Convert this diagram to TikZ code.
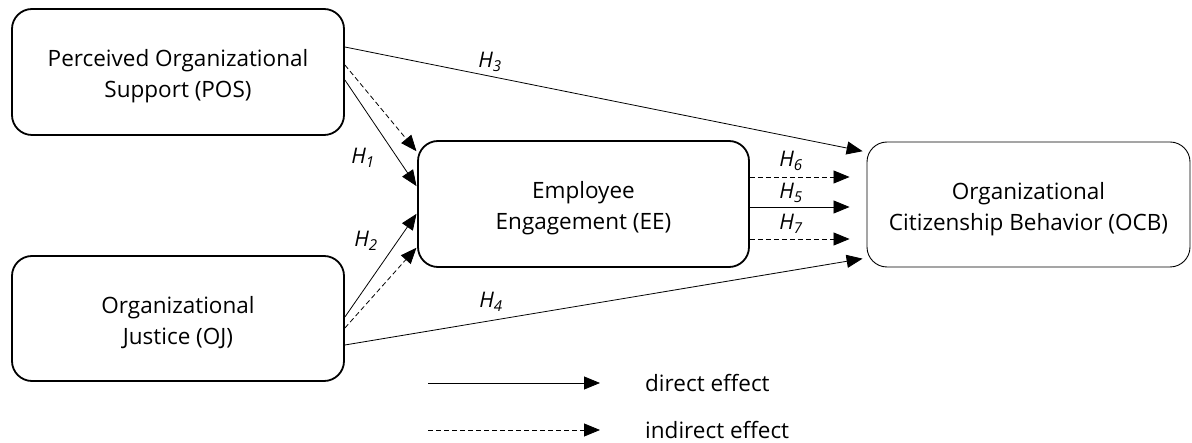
\documentclass[tikz,border=0pt]{standalone}
\usepackage{fontspec}
\setmainfont{Open Sans}
\usetikzlibrary{arrows.meta,calc}
\newcommand{\topstrut}{\rule{0pt}{26pt}}
\begin{document}
\begin{tikzpicture}[x=1pt,y=-1pt,
  box/.style={draw, line width=1.8pt, rounded corners=20pt, align=center,
    font=\fontsize{22.5}{31}\selectfont, inner sep=0pt},
  thinbox/.style={box, line width=0.9pt},
  hlab/.style={font=\fontsize{21.5}{21.5}\selectfont\itshape, inner sep=0pt},
  legtext/.style={font=\fontsize{22.5}{22.5}\selectfont, anchor=west, inner sep=0pt},
  dirarrow/.style={-{Triangle[length=16pt,width=13pt]}, line width=0.8pt},
  indarrow/.style={dirarrow, dash pattern=on 5pt off 3pt}]
\fill[white] (0,0) rectangle (1192,443);
\useasboundingbox (0,0) rectangle (1192,443);

\node[box, minimum width=332pt, minimum height=126pt] (pos) at (178,72)
  {\topstrut Perceived Organizational\\Support (POS)};
\node[box, minimum width=332pt, minimum height=125pt] (oj) at (178,318.5)
  {\topstrut Organizational\\Justice (OJ)};
\node[box, minimum width=331pt, minimum height=126pt] (ee) at (583.5,204)
  {\topstrut Employee\\Engagement (EE)};
\node[thinbox, minimum width=323pt, minimum height=125pt] (ocb) at (1028.5,204.5)
  {\topstrut Organizational\\Citizenship Behavior (OCB)};

% POS arrows
\draw[dirarrow, shorten >=4pt] ([yshift=25pt]pos.east) -- ([yshift=52.5pt]ocb.west);
\draw[indarrow, shorten >=1pt] ([yshift=7pt]pos.east) -- ([yshift=52pt]ee.west);
\draw[dirarrow, shorten >=1pt] ([yshift=-8pt]pos.east) -- ([yshift=17pt]ee.west);
% OJ arrows
\draw[dirarrow, shorten >=1pt] ([yshift=1.5pt]oj.east) -- ([yshift=-9pt]ee.west);
\draw[indarrow, shorten >=1pt] ([yshift=-9.5pt]oj.east) -- ([yshift=-43pt]ee.west);
\draw[dirarrow, shorten >=4pt] ([yshift=-26.5pt]oj.east) -- ([yshift=-53.5pt]ocb.west);
% EE arrows
\draw[indarrow, shorten >=17pt] ([yshift=27pt]ee.east) -- ([yshift=27.5pt]ocb.west);
\draw[dirarrow, shorten >=17pt] ([yshift=-3pt]ee.east) -- ([yshift=-2.5pt]ocb.west);
\draw[indarrow, shorten >=17pt] ([yshift=-35pt]ee.east) -- ([yshift=-34.5pt]ocb.west);

% labels
\node[hlab] (h3) at (490,62) {H\textsubscript{3}};
\node[hlab] (h1) at (363,158) {H\textsubscript{1}};
\node[hlab] (h2) at (366,241) {H\textsubscript{2}};
\node[hlab] (h4) at (491,302) {H\textsubscript{4}};
\node[hlab] (h6) at (791,161) {H\textsubscript{6}};
\node[hlab] (h5) at (791,193) {H\textsubscript{5}};
\node[hlab] (h7) at (791,224) {H\textsubscript{7}};

% legend
\coordinate (l1s) at (428,383);
\coordinate (l1e) at (600,383);
\coordinate (l2s) at (428,430);
\coordinate (l2e) at (600,430);
\draw[dirarrow] (l1s) -- (l1e);
\draw[indarrow] (l2s) -- (l2e);
\node[legtext] (t1) at (645,383) {direct effect};
\node[legtext] (t2) at (645,430) {indirect effect};
\end{tikzpicture}
\end{document}
